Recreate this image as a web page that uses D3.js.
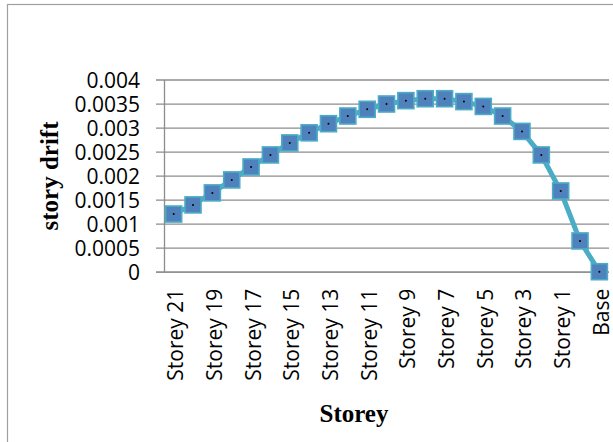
<!DOCTYPE html>
<html>
<head>
<meta charset="utf-8">
<script src="https://cdn.jsdelivr.net/npm/d3@7"></script>
<style>
  html, body { margin: 0; padding: 0; background: #fff; }
  svg { display: block; }
</style>
</head>
<body>
<svg id="chart" width="613" height="442"></svg>
<script>
// Storey levels from top to base
const storeys = [
  "Storey 21", "Storey 20", "Storey 19", "Storey 18", "Storey 17", "Storey 16",
  "Storey 15", "Storey 14", "Storey 13", "Storey 12", "Storey 11", "Storey 10",
  "Storey 9", "Storey 8", "Storey 7", "Storey 6", "Storey 5", "Storey 4",
  "Storey 3", "Storey 2", "Storey 1", "Ground", "Base"
];
// Inter-storey drift ratio for each level
const drift = [
  0.00120, 0.00139, 0.00164, 0.00191, 0.00218, 0.00243,
  0.00268, 0.00289, 0.00308, 0.00324, 0.00338, 0.00349,
  0.00356, 0.00360, 0.00360, 0.00354, 0.00344, 0.00324,
  0.00292, 0.00243, 0.00168, 0.00064, 0
];
const yTicks = [0, 0.0005, 0.001, 0.0015, 0.002, 0.0025, 0.003, 0.0035, 0.004];
const yTickLabels = ["0", "0.0005", "0.001", "0.0015", "0.002", "0.0025", "0.003", "0.0035", "0.004"];

const svg = d3.select("#chart");
const plot = { left: 164, right: 609, top: 79.5, bottom: 271.7 };
const labelFont = "'Open Sans', 'Noto Sans', sans-serif";
const titleFont = "'Liberation Serif', 'Times New Roman', serif";

// outer chart frame
svg.append("rect")
  .attr("x", 7.5).attr("y", 4.5)
  .attr("width", 640).attr("height", 460)
  .attr("fill", "none").attr("stroke", "#a0a0a0").attr("stroke-width", 1.2);

const x = d3.scaleBand().domain(storeys).range([plot.left, plot.left + 19.35 * storeys.length]).padding(0);
const y = d3.scaleLinear().domain([0, 0.004]).range([plot.bottom, plot.top]);

// horizontal gridlines (they also act as the left tick marks)
svg.append("g")
  .attr("transform", `translate(${plot.right},0)`)
  .call(d3.axisLeft(y).tickValues(yTicks).tickSize(plot.right - plot.left + 8).tickFormat(""))
  .call(g => g.select(".domain").remove())
  .call(g => g.selectAll("line").attr("stroke", "#8c8c8c").attr("stroke-width", 1.3));

// y axis labels
svg.append("g")
  .attr("transform", `translate(${plot.left},0)`)
  .call(d3.axisLeft(y).tickValues(yTicks).tickSize(0).tickPadding(24)
    .tickFormat((d, i) => yTickLabels[i]))
  .call(g => g.select(".domain").attr("stroke", "#8c8c8c").attr("stroke-width", 1.3))
  .call(g => g.selectAll("text")
    .attr("font-family", labelFont).attr("font-size", 21)
    .attr("fill", "#000").attr("dy", "0.36em"));

// x axis with every other storey labelled
svg.append("g")
  .attr("transform", `translate(0,${plot.bottom})`)
  .call(d3.axisBottom(x).tickSize(0).tickFormat((d, i) => i % 2 === 0 ? d : ""))
  .call(g => g.select(".domain").attr("stroke", "#8c8c8c").attr("stroke-width", 1.3)
    .attr("d", `M${plot.left - 8},0.5H${plot.right}`))
  .call(g => g.selectAll("text")
    .attr("font-family", labelFont).attr("font-size", 21).attr("fill", "#000")
    .attr("text-anchor", "end")
    .attr("transform", "rotate(-90)")
    .attr("x", -17).attr("y", 0).attr("dy", "0.45em"));

// drift line
const line = d3.line()
  .x((d, i) => x(storeys[i]) + x.bandwidth() / 2)
  .y(d => y(d));

svg.append("path")
  .datum(drift)
  .attr("d", line)
  .attr("fill", "none")
  .attr("stroke", "#4bacc6")
  .attr("stroke-width", 5)
  .attr("stroke-linejoin", "round");

// square markers
const m = 16;
const pts = svg.append("g").selectAll("g")
  .data(drift)
  .join("g")
  .attr("transform", (d, i) => `translate(${x(storeys[i]) + x.bandwidth() / 2},${y(d)})`);

pts.append("rect")
  .attr("x", -m / 2).attr("y", -m / 2)
  .attr("width", m).attr("height", m)
  .attr("fill", "#4f81bd")
  .attr("stroke", "#4bacc6").attr("stroke-width", 1.6);

pts.append("circle")
  .attr("r", 1)
  .attr("fill", "#000");

// axis titles
svg.append("text")
  .attr("x", 354).attr("y", 422)
  .attr("text-anchor", "middle")
  .attr("font-family", titleFont).attr("font-weight", "bold").attr("font-size", 25)
  .text("Storey");

svg.append("text")
  .attr("transform", "translate(58,176) rotate(-90)")
  .attr("text-anchor", "middle")
  .attr("font-family", titleFont).attr("font-weight", "bold").attr("font-size", 25)
  .text("story drift");
</script>
</body>
</html>
